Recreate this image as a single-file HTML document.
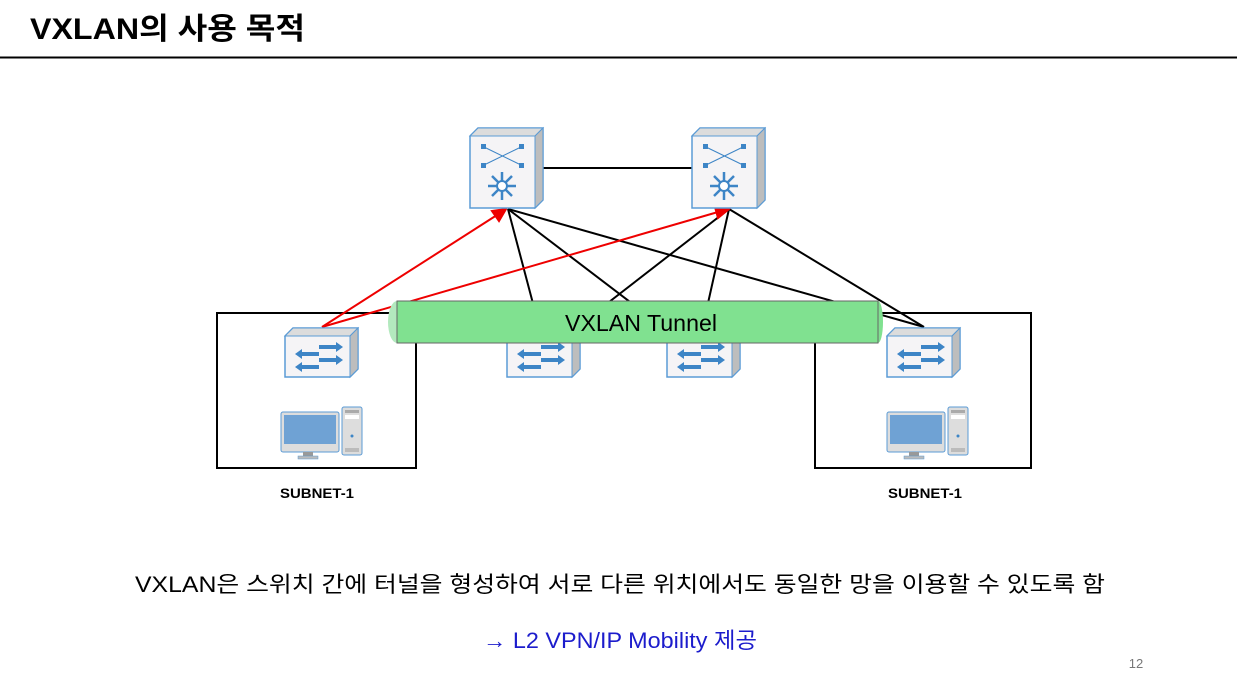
<!DOCTYPE html>
<html><head><meta charset="utf-8"><style>
body{margin:0;background:#fff;width:1237px;height:696px;overflow:hidden;font-family:"Liberation Sans","Noto Sans CJK KR",sans-serif;}
</style></head><body>
<svg width="1237" height="696" xmlns="http://www.w3.org/2000/svg" style="position:absolute;left:0;top:0">
<defs>
<g id="spine">
<polygon points="0,8 8,0 73,0 73,72 65,80 0,80" fill="#f5f4f6" stroke="#5b9bd5" stroke-width="1.5"/>
<polygon points="0,8 8,0 73,0 65,8" fill="#dcdcdc" stroke="#5b9bd5" stroke-width="1"/>
<polygon points="65,8 73,0 73,72 65,80" fill="#bdbdbd" stroke="#5b9bd5" stroke-width="1"/>
<g stroke="#3d85c6" stroke-width="1"><line x1="14" y1="19" x2="51" y2="37"/><line x1="51" y1="19" x2="14" y2="37"/></g>
<g fill="#3d85c6"><rect x="11" y="16" width="5" height="5"/><rect x="49" y="16" width="5" height="5"/><rect x="11" y="35" width="5" height="5"/><rect x="49" y="35" width="5" height="5"/></g>
<g stroke="#3d85c6" stroke-width="2.5"><line x1="32" y1="44" x2="32" y2="72"/><line x1="18" y1="58" x2="46" y2="58"/><line x1="22" y1="48" x2="42" y2="68"/><line x1="42" y1="48" x2="22" y2="68"/></g>
<circle cx="32" cy="58" r="5" fill="#fff" stroke="#3d85c6" stroke-width="2"/>
</g>
<g id="leaf">
<polygon points="0,8 8,0 73,0 73,41 65,49 0,49" fill="#f5f4f6" stroke="#5b9bd5" stroke-width="1.5"/>
<polygon points="0,8 8,0 73,0 65,8" fill="#dcdcdc" stroke="#5b9bd5" stroke-width="1"/>
<polygon points="65,8 73,0 73,41 65,49" fill="#bdbdbd" stroke="#5b9bd5" stroke-width="1"/>
<g fill="#3d85c6"><rect x="34" y="17" width="17" height="4"/><polygon points="51,14 58,19 51,24"/>
<rect x="34" y="30" width="17" height="4"/><polygon points="51,27 58,32 51,37"/>
<rect x="17" y="24" width="17" height="4"/><polygon points="17,21 10,26 17,31"/>
<rect x="17" y="37" width="17" height="4"/><polygon points="17,34 10,39 17,44"/></g>
</g>
<g id="pc">
<rect x="0" y="5" width="58" height="40" rx="2" fill="#ddd" stroke="#5b9bd5"/>
<rect x="3" y="8" width="52" height="29" fill="#6fa2d4"/>
<rect x="22" y="45" width="10" height="4" fill="#999"/><rect x="17" y="49" width="20" height="3" fill="#bbb" stroke="#5b9bd5" stroke-width=".5"/>
<rect x="61" y="0" width="20" height="48" rx="2" fill="#ddd" stroke="#5b9bd5"/>
<rect x="64" y="3" width="14" height="3" fill="#aaa"/><rect x="64" y="8" width="14" height="4" fill="#fff"/>
<circle cx="71" cy="29" r="1.5" fill="#3d85c6"/><rect x="64" y="41" width="14" height="4" fill="#bbb"/>
</g>
</defs>
<text x="30" y="39" font-size="30" font-weight="bold" fill="#000" textLength="275" lengthAdjust="spacingAndGlyphs">VXLAN의 사용 목적</text>
<line x1="0" y1="57.5" x2="1237" y2="57.5" stroke="#000" stroke-width="2"/>
<rect x="217" y="313" width="199" height="155" fill="none" stroke="#000" stroke-width="2"/>
<rect x="815" y="313" width="216" height="155" fill="none" stroke="#000" stroke-width="2"/>
<line x1="543" y1="168" x2="692" y2="168" stroke="#000" stroke-width="2"/>
<g stroke="#000" stroke-width="2">
<line x1="508" y1="209" x2="540" y2="330"/>
<line x1="508" y1="209" x2="680" y2="340"/>
<line x1="508" y1="209" x2="924" y2="327"/>
<line x1="729" y1="209" x2="560" y2="340"/>
<line x1="729" y1="209" x2="702" y2="330"/>
<line x1="729" y1="209" x2="924" y2="327"/>
<line x1="815" y1="343" x2="815" y2="468"/>
</g>
<g stroke="#e00" stroke-width="2" fill="#e00">
<line x1="322" y1="327" x2="497" y2="215"/><polygon points="506,209 492,211 499,221"/>
<line x1="322" y1="327" x2="718" y2="212"/><polygon points="729,209 715,207 718,218"/>
</g>
<use href="#spine" x="470" y="128"/>
<use href="#spine" x="692" y="128"/>
<use href="#leaf" x="285" y="328"/>
<use href="#leaf" x="507" y="328"/>
<use href="#leaf" x="667" y="328"/>
<use href="#leaf" x="887" y="328"/>
<use href="#pc" x="281" y="407"/>
<use href="#pc" x="887" y="407"/>
<ellipse cx="397" cy="322" rx="9" ry="21" fill="#b3e9be"/>
<ellipse cx="878" cy="322" rx="5" ry="21" fill="#80e190"/>
<rect x="397" y="301" width="481" height="42" fill="#80e190" stroke="#666" stroke-width="1"/>
<text x="565" y="331" font-size="23" fill="#000" textLength="152" lengthAdjust="spacingAndGlyphs">VXLAN Tunnel</text>
<text x="280" y="498" font-size="14" font-weight="bold" textLength="74" lengthAdjust="spacingAndGlyphs">SUBNET-1</text>
<text x="888" y="498" font-size="14" font-weight="bold" textLength="74" lengthAdjust="spacingAndGlyphs">SUBNET-1</text>
<text x="135" y="592" font-size="22" fill="#000" textLength="970" lengthAdjust="spacingAndGlyphs">VXLAN은 스위치 간에 터널을 형성하여 서로 다른 위치에서도 동일한 망을 이용할 수 있도록 함</text>
<text x="483" y="648" font-size="22" fill="#1c1ccc" textLength="274" lengthAdjust="spacingAndGlyphs">→ L2 VPN/IP Mobility 제공</text>
<text x="1136" y="668" font-size="13" text-anchor="middle" fill="#777">12</text>
</svg>
</body></html>
